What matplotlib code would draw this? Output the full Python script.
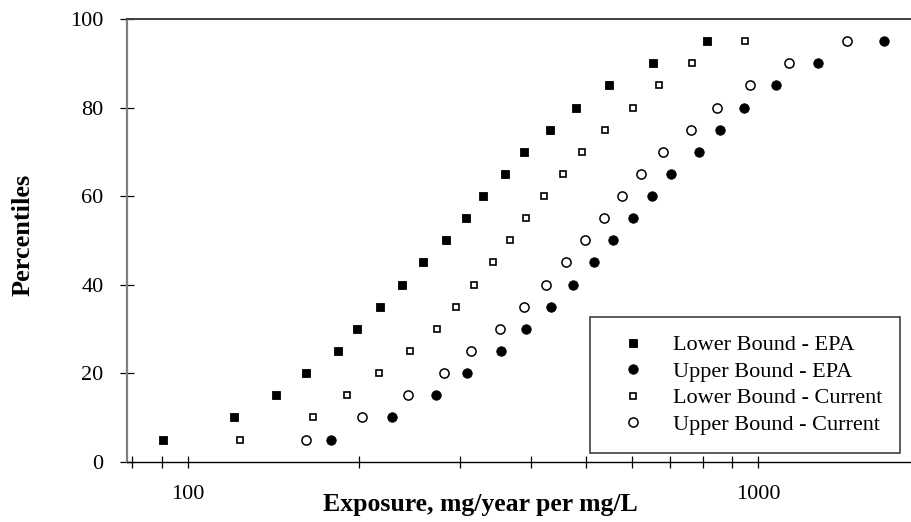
import matplotlib
matplotlib.use("Agg")
import matplotlib.pyplot as plt
from matplotlib.ticker import FixedLocator, NullFormatter, FixedFormatter

percentiles = [5, 10, 15, 20, 25, 30, 35, 40, 45, 50, 55, 60, 65, 70, 75, 80, 85, 90, 95]
lower_epa = [90.5, 120.5, 143, 161.4, 183.2, 198, 217.6, 237.7, 258.8, 284, 307, 328.8,
             359.4, 389, 432, 478.6, 547.4, 653, 814]
upper_epa = [178.1, 228.3, 272.7, 309.0, 353.7, 391.7, 432.7, 472.9, 516.0, 556.6, 603.1,
             650.5, 703.1, 786.4, 855.8, 945, 1073, 1271, 1661]
lower_cur = [123.3, 166, 190, 216.4, 245.3, 273.8, 295.3, 318, 342.8, 367.7, 391.3, 421.2,
             454.2, 490.3, 539.4, 602.5, 670.7, 766, 946.6]
upper_cur = [161.5, 201.8, 243.3, 281.7, 313.7, 352.3, 388.5, 424.6, 460.3, 497.5, 536.6,
             577.6, 623.7, 680, 761.4, 847.7, 967, 1133, 1430]

labels = ["Lower Bound - EPA", "Upper Bound - EPA", "Lower Bound - Current", "Upper Bound - Current"]
x_major = [100, 1000]
x_major_labels = ["100", "1000"]
x_minor = [80, 90, 200, 300, 400, 500, 600, 700, 800, 900]
y_ticks = [0, 20, 40, 60, 80, 100]

plt.rcParams['font.family'] = ['Liberation Serif', 'DejaVu Serif']

W, H = 911, 522
fig = plt.figure(figsize=(W / 100, H / 100), dpi=100)
left, right, top, bottom = 127, 911, 19, 461.7
ax = fig.add_axes([left / W, (H - bottom) / H, (right - left) / W, (bottom - top) / H])

ax.plot(lower_epa, percentiles, linestyle='none', marker='s', markersize=5.2,
        markerfacecolor='black', markeredgecolor='black', markeredgewidth=0.6, label=labels[0])
ax.plot(upper_epa, percentiles, linestyle='none', marker='o', markersize=6.8,
        markerfacecolor='black', markeredgecolor='black', markeredgewidth=0.6, label=labels[1])
ax.plot(lower_cur, percentiles, linestyle='none', marker='s', markersize=5.0,
        markerfacecolor='white', markeredgecolor='black', markeredgewidth=1.2, label=labels[2])
ax.plot(upper_cur, percentiles, linestyle='none', marker='o', markersize=6.6,
        markerfacecolor='white', markeredgecolor='black', markeredgewidth=1.1, label=labels[3])

ax.set_xscale('log')
ax.set_xlim(78.3, 1852)
ax.set_ylim(0, 100)

ax.xaxis.set_major_locator(FixedLocator(x_major))
ax.xaxis.set_major_formatter(FixedFormatter(x_major_labels))
ax.xaxis.set_minor_locator(FixedLocator(x_minor))
ax.xaxis.set_minor_formatter(NullFormatter())
ax.set_yticks(y_ticks)

ax.tick_params(axis='x', which='both', direction='inout', length=8, width=0.9,
               color='black', labelsize=16, pad=13)
ax.tick_params(axis='y', which='major', direction='inout', length=10, width=0.9,
               color='black', labelsize=16, pad=12)

ax.spines['right'].set_visible(False)
ax.spines['left'].set_color('#808080')
ax.spines['left'].set_linewidth(1.6)
ax.spines['bottom'].set_color('black')
ax.spines['bottom'].set_linewidth(1.0)
ax.spines['top'].set_color('#404040')
ax.spines['top'].set_linewidth(1.4)

fig.text(480 / W, 1 - 505 / H, "Exposure, mg/year per mg/L", ha='center', va='center',
         fontsize=18.5, fontweight='bold')
fig.text(23 / W, 1 - 235 / H, "Percentiles", ha='center', va='center', rotation=90,
         fontsize=19, fontweight='bold')

leg = ax.legend(loc='upper left', bbox_to_anchor=((590 - left) / (right - left), (bottom - 317) / (bottom - top)),
                fontsize=16, frameon=True, fancybox=False, borderpad=0.8, labelspacing=0.27,
                handletextpad=0.67, handlelength=2.27, borderaxespad=0)
frame = leg.get_frame()
frame.set_edgecolor('#404040')
frame.set_linewidth(1.2)
frame.set_facecolor('white')
frame.set_alpha(1)

fig.savefig("out.png", dpi=100)
